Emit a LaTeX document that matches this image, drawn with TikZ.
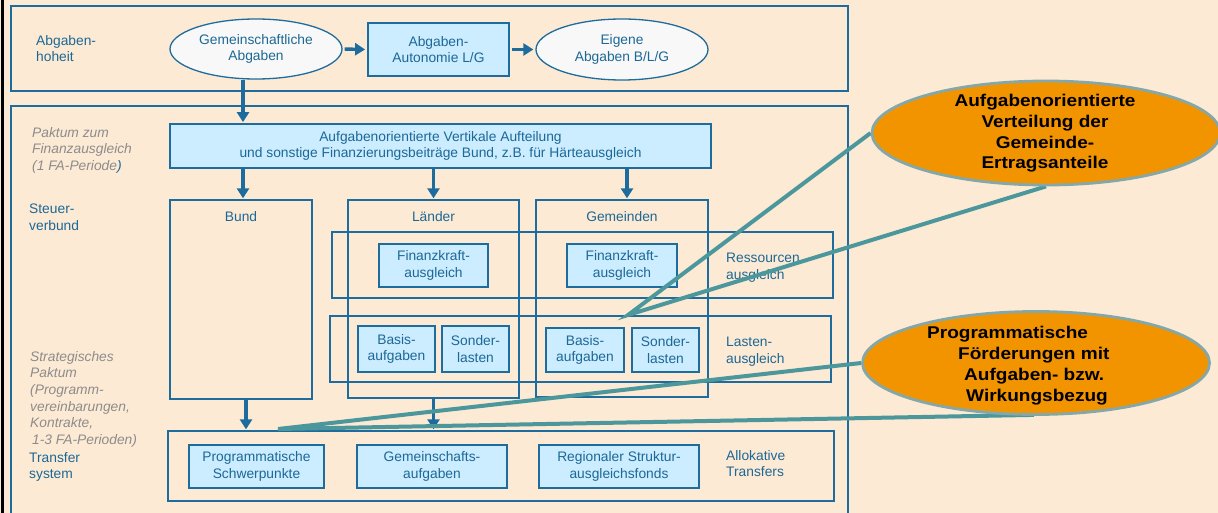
\documentclass[tikz,border=0pt]{standalone}
\usepackage{fontspec}
\setmainfont{Liberation Sans}
\newfontfamily\bubblefont[FakeStretch=1.12]{Liberation Sans}
\usetikzlibrary{shapes.geometric,arrows.meta,calc}

\definecolor{bgc}{RGB}{253,234,212}
\definecolor{frm}{RGB}{30,108,158}
\definecolor{txtblue}{RGB}{28,104,150}
\definecolor{boxfill}{RGB}{204,236,255}
\definecolor{ellfill}{RGB}{248,248,248}
\definecolor{notegrey}{RGB}{140,140,140}
\definecolor{callteal}{RGB}{76,151,156}
\definecolor{orng}{RGB}{242,148,0}
\definecolor{orngedge}{RGB}{132,168,170}

\pgfdeclarelayer{front}
\pgfsetlayers{main,front}

\tikzset{
  basefont/.style={font=\fontsize{13.8}{16.6}\selectfont},
  lbl/.style={basefont, text=txtblue, align=left, inner sep=0, anchor=north west},
  note/.style={font=\fontsize{13.8}{16.6}\selectfont\itshape, text=notegrey, align=left, inner sep=0, anchor=north west},
  frame/.style={draw=frm, line width=1.3pt},
  area/.style={rectangle, draw=frm, line width=1.3pt, inner sep=0},
  fbox/.style={rectangle, draw=frm, fill=boxfill, line width=1.8pt, basefont, text=txtblue, align=center, inner sep=0},
  oval/.style={ellipse, draw=frm, fill=ellfill, line width=1.3pt, basefont, text=txtblue, align=center, inner sep=0},
  arr/.style={draw=frm, line width=3.4pt, -{Triangle[length=10pt,width=12pt]}},
  callout/.style={draw=callteal, line width=4pt, line join=miter},
  bubble/.style={ellipse, draw=orngedge, fill=orng, line width=2.8pt, inner sep=0},
  btxt/.style={font=\bubblefont\bfseries\fontsize{17}{20.7}\selectfont, text=black, inner sep=0},
}

\begin{document}
\begin{tikzpicture}[x=1pt,y=-1pt]
\useasboundingbox (0,0) rectangle (1218,513);
\fill[bgc] (0,0) rectangle (1218,513);
\fill[black] (1,0) rectangle (4,513);

% outer frames
\draw[frame] (11,6) rectangle (848,91);
\draw[frame] (11,520) -- (11,106) -- (848,106) -- (848,520);

% left-hand labels
\node[lbl] (lblhoheit) at (36,35) {Abgaben-\\hoheit};
\node[note] (lblpakt) at (32,127) {Paktum zum\\Finanzausgleich\\(1 FA-Periode{\color{txtblue})}};
\node[lbl] (lblsteuer) at (29,204) {Steuer-\\verbund};
\node[note] (lblstrat) at (30,351) {Strategisches\\Paktum\\(Programm-\\vereinbarungen,\\Kontrakte,\\\hspace*{2pt}1-3 FA-Perioden)};
\node[lbl] (lbltransfer) at (29,452) {Transfer\\system};

% tax sovereignty row
\node[oval, minimum width=172pt, minimum height=60pt] (gem) at (256,49) {Gemeinschaftliche\\Abgaben};
\node[fbox, minimum width=141pt, minimum height=53pt] (aut) at (438.5,49.5) {Abgaben-\\Autonomie L/G};
\node[oval, minimum width=172pt, minimum height=61pt] (eig) at (622,49.5) {Eigene\\Abgaben B/L/G};
\draw[arr, shorten <=2pt, shorten >=2pt] (gem.east) -- (aut.west);
\draw[arr, shorten <=2pt, shorten >=2pt] (aut.east) -- (eig.west);

% vertical distribution
\node[fbox, minimum width=541pt, minimum height=44pt] (vert) at (440.5,146)
  {Aufgabenorientierte Vertikale Aufteilung\\und sonstige Finanzierungsbeiträge Bund, z.B. für Härteausgleich};
\draw[arr, shorten >=1pt] ([xshift=-13pt]gem.south) -- ([xshift=-13pt]gem.south |- vert.north);

% columns of the tax union
\node[area, minimum width=142pt, minimum height=199pt] (bund) at (241,299.5) {};
\node[area, minimum width=171pt, minimum height=198pt] (laend) at (433.5,299) {};
\node[area, minimum width=172pt, minimum height=197pt] (gemd) at (622,298.5) {};
\node[basefont, text=txtblue, inner sep=0] (bundlbl) at (241,217) {Bund};
\node[basefont, text=txtblue, inner sep=0] (laendlbl) at (433.5,217) {Länder};
\node[basefont, text=txtblue, inner sep=0] (gemdlbl) at (622,217) {Gemeinden};
\draw[arr, shorten >=1pt] ([xshift=2pt]bund.north |- vert.south) -- ([xshift=2pt]bund.north);
\draw[arr, shorten >=1pt] (laend.north |- vert.south) -- (laend.north);
\draw[arr, shorten >=1pt] ([xshift=5pt]gemd.north |- vert.south) -- ([xshift=5pt]gemd.north);

% equalisation rows
\node[area, minimum width=501pt, minimum height=66pt] (ress) at (582.5,265) {};
\node[area, minimum width=501pt, minimum height=66pt] (last) at (580.5,349) {};
\node[lbl] (resslbl) at (726,253) {Ressourcen\\ausgleich};
\node[lbl] (lastlbl) at (726,337) {Lasten-\\ausgleich};

\node[fbox, minimum width=109pt, minimum height=43pt] (fkL) at (433.5,265.5) {Finanzkraft-\\ausgleich};
\node[fbox, minimum width=110pt, minimum height=43pt] (fkG) at (622,265.5) {Finanzkraft-\\ausgleich};
\node[fbox, minimum width=77pt, minimum height=46pt] (baL) at (396.5,349) {Basis-\\aufgaben};
\node[fbox, minimum width=67pt, minimum height=46pt] (soL) at (475.5,349) {Sonder-\\lasten};
\node[fbox, minimum width=78pt, minimum height=44pt] (baG) at (585,350) {Basis-\\aufgaben};
\node[fbox, minimum width=67pt, minimum height=44pt] (soG) at (665.5,350) {Sonder-\\lasten};

% allocative transfers
\node[area, minimum width=666pt, minimum height=70pt] (alloc) at (501,466) {};
\node[fbox, minimum width=135pt, minimum height=43pt] (prog) at (256.5,466.5) {Programmatische\\Schwerpunkte};
\node[fbox, minimum width=150pt, minimum height=43pt] (gema) at (432,466.5) {Gemeinschafts-\\aufgaben};
\node[fbox, minimum width=160pt, minimum height=43pt] (regio) at (619,466.5) {Regionaler Struktur-\\ausgleichsfonds};
\node[lbl] (alloclbl) at (726,450) {Allokative\\Transfers};
\draw[arr, shorten >=1pt] ([xshift=5pt]bund.south) -- ([xshift=5pt]bund.south |- alloc.north);
\draw[arr, shorten >=1pt] (laend.south) -- (laend.south |- alloc.north);

% highlight bubbles
\begin{pgfonlayer}{front}
\node[bubble, minimum width=348pt, minimum height=104pt] (o1) at (1046,133) {};
\node[btxt, anchor=base] (o1a) at (1045,107) {Aufgabenorientierte};
\node[btxt, anchor=base] (o1b) at (1045,128) {Verteilung der};
\node[btxt, anchor=base] (o1c) at (1045,148.5) {Gemeinde-};
\node[btxt, anchor=base] (o1d) at (1045,169) {Ertragsanteile};

\node[bubble, minimum width=347pt, minimum height=103pt] (o2) at (1036,363) {};
\node[btxt, anchor=base west] (o2a) at (927,338) {Programmatische};
\node[btxt, anchor=base west] (o2b) at (958,359) {Förderungen mit};
\node[btxt, anchor=base west] (o2c) at (964,380) {Aufgaben- bzw.};
\node[btxt, anchor=base west] (o2d) at (966,401) {Wirkungsbezug};
\end{pgfonlayer}

% callout wedges
\coordinate (c1) at (628,315);
\coordinate (c2) at (278,429);
\draw[callout] (o1.west) -- (c1) -- (o1.south);
\draw[callout] (o2.west) -- (c2) -- ([xshift=-2pt,yshift=1pt]o2.south);
\end{tikzpicture}
\end{document}
